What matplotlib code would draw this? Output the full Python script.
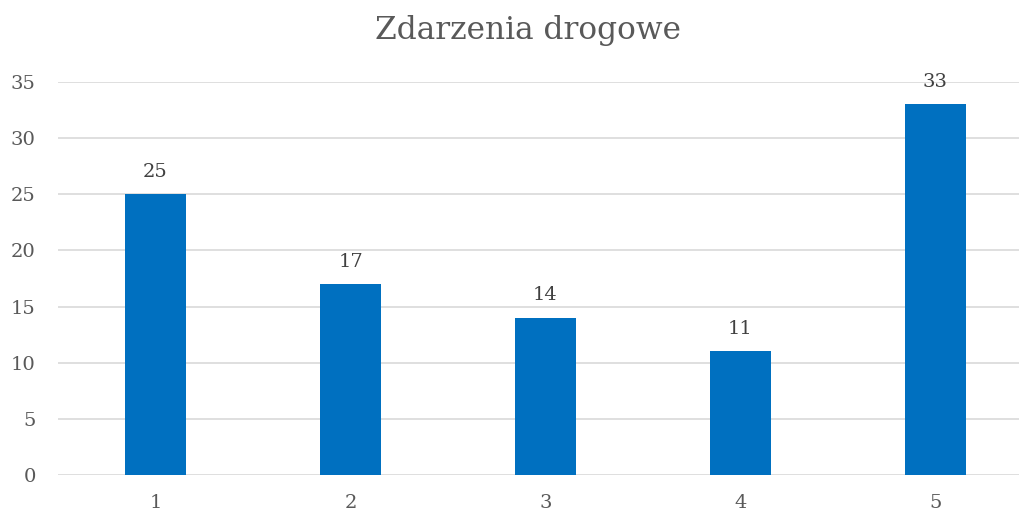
import matplotlib.pyplot as plt

categories = ['1', '2', '3', '4', '5']
values = [25, 17, 14, 11, 33]

plt.rcParams['font.family'] = ['DejaVu Serif']

fig = plt.figure(figsize=(10.2, 5.15), dpi=100)
ax = fig.add_axes([0.0569, 0.0777, 0.9558, 0.7631])

x = range(len(categories))
bars = ax.bar(x, values, width=0.31, color='#0070C0', zorder=3)
for b, v in zip(bars, values):
    ax.text(b.get_x() + b.get_width() / 2, v + 1.2, str(v), ha='center', va='bottom',
            fontsize=14, color='#404040')

ax.set_xlim(-0.5, len(categories) - 0.5)
ax.set_ylim(0, 35)
ax.set_yticks(range(0, 36, 5))
ax.set_xticks(list(x))
ax.set_xticklabels(categories)
ax.grid(axis='y', color='#D9D9D9', linewidth=1.2, zorder=0)
for s in ax.spines.values():
    s.set_visible(False)
ax.tick_params(length=0, labelsize=14, labelcolor='#595959')
ax.tick_params(axis='x', pad=14)
ax.tick_params(axis='y', pad=16)

fig.text(0.518, 0.94, 'Zdarzenia drogowe', ha='center', va='center', fontsize=22.5, color='#595959')

fig.savefig('out.png', dpi=100)
